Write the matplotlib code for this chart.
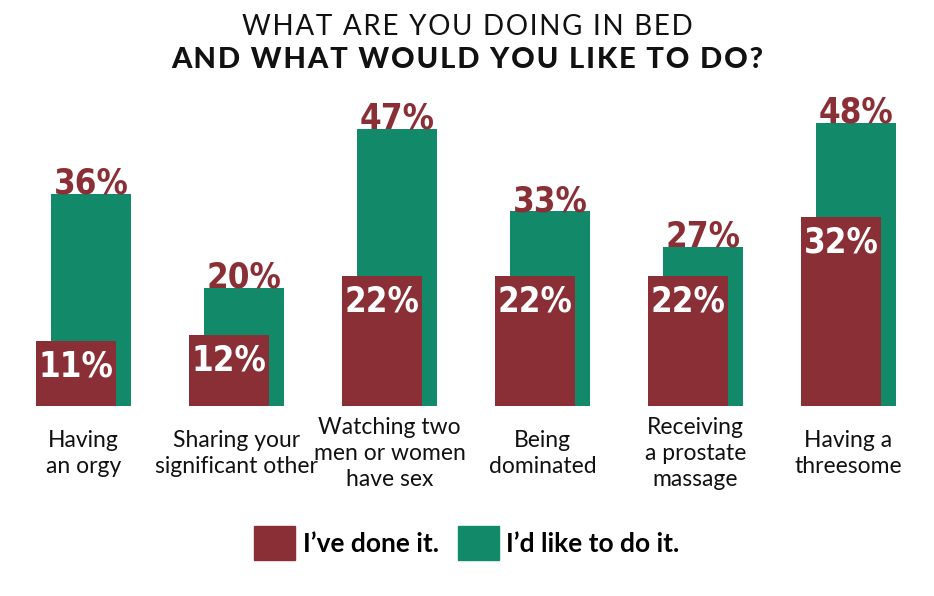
import numpy as np
import matplotlib
matplotlib.use("Agg")
import matplotlib.pyplot as plt
from matplotlib.patches import Patch

# data
categories = ["Having\nan orgy", "Sharing your\nsignificant other",
              "Watching two\nmen or women\nhave sex", "Being\ndominated",
              "Receiving\na prostate\nmassage", "Having a\nthreesome"]
done = [11, 12, 22, 22, 22, 32]
like = [36, 20, 47, 33, 27, 48]
legend_labels = ["I\u2019ve done it.", "I\u2019d like to do it."]
title_top = "WHAT ARE YOU DOING IN BED"
title_bottom = "AND WHAT WOULD YOU LIKE TO DO?"

RED = "#8B2F36"
GREEN = "#128A6A"
TXT = "#111111"

num_font = dict(family="DejaVu Sans", fontstretch="condensed", fontweight="bold", fontsize=25)


def spaced(s, gap="\u200a"):
    # crude letter spacing with hair spaces
    return gap.join(s)


fig = plt.figure(figsize=(9.34, 5.96), dpi=100)
ax = fig.add_axes([7 / 934, 190 / 596, 918 / 934, 295 / 596])

x = np.arange(len(categories))
w = 0.523
off = 0.049

ax.bar(x + off, like, width=w, color=GREEN, zorder=1)
ax.bar(x - off, done, width=w, color=RED, zorder=2)

for xi, v in zip(x, like):
    ax.text(xi + off, v, f"{v}%", color=RED, ha="center", va="baseline", **num_font)
for xi, v in zip(x, done):
    ax.annotate(f"{v}%", (xi - off, v), xytext=(0, -6), textcoords="offset points",
                color="white", ha="center", va="top", zorder=3, **num_font)

ax.set_xlim(-0.5, len(categories) - 0.5)
ax.set_ylim(0, 50)
ax.set_xticks(x, categories, family="Lato", fontsize=16.5, color=TXT, linespacing=1.3)
for lab in ax.get_xticklabels():
    lab.set_va("center")
    lab.set_multialignment("center")
ax.tick_params(axis="x", length=0, pad=34)
ax.set_yticks([])
for s in ax.spines.values():
    s.set_visible(False)

fig.text(0.5, 1 - 27 / 596, spaced(title_top), ha="center", va="center",
         family=["Lato", "DejaVu Sans"], fontweight="normal", fontsize=20, color=TXT)
fig.text(0.5, 1 - 60 / 596, spaced(title_bottom), ha="center", va="center",
         family=["Lato", "DejaVu Sans"], fontweight="black", fontsize=21, color=TXT)

handles = [Patch(color=RED), Patch(color=GREEN)]
fig.legend(handles, legend_labels, loc="center", bbox_to_anchor=(0.5, 1 - 543 / 596),
           ncol=2, frameon=False, handlelength=1.55, handleheight=1.55, handletextpad=0.3,
           columnspacing=0.7, prop=dict(family="Lato", weight="bold", size=19))

fig.savefig("out.png", dpi=100)
